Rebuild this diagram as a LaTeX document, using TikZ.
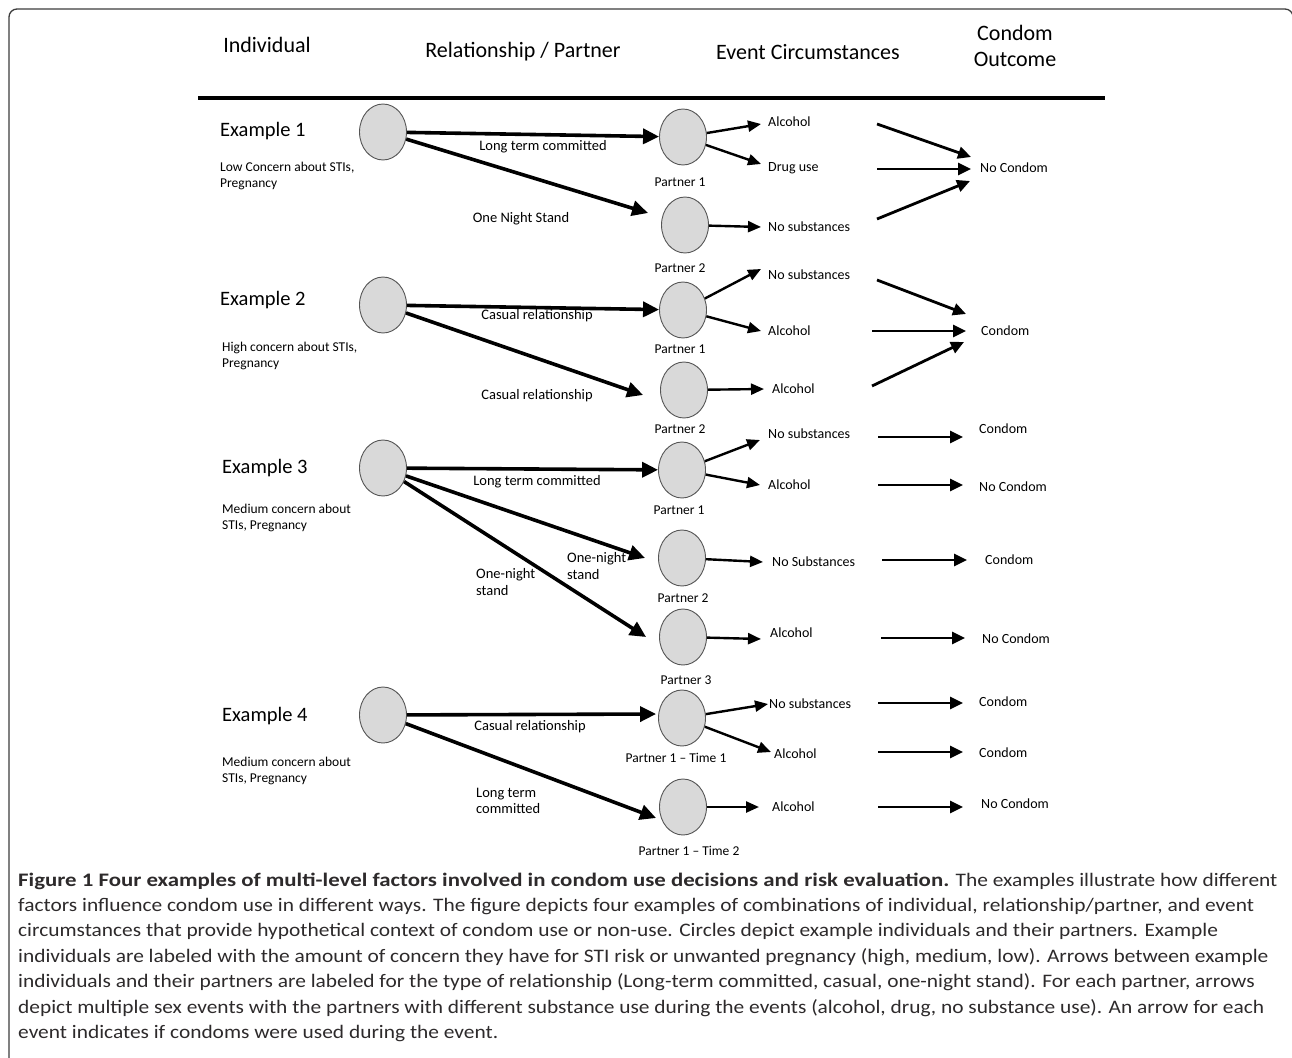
\documentclass[tikz,border=0pt]{standalone}
\usepackage{fontspec}
\setmainfont{Carlito}
\newfontfamily\capfont[FakeStretch=1.12,BoldFeatures={FakeStretch=1.195}]{Carlito}
\usetikzlibrary{shapes.geometric,arrows.meta,calc}
\definecolor{circfill}{RGB}{217,217,217}
\definecolor{circline}{RGB}{85,85,85}
\definecolor{captxt}{RGB}{45,42,43}
\definecolor{framec}{RGB}{60,60,60}
\begin{document}
\begin{tikzpicture}[x=1pt,y=-1pt,
  person/.style={ellipse, draw=circline, line width=0.9pt, fill=circfill, minimum width=47pt, minimum height=56pt, inner sep=0pt},
  big/.style={line width=3.6pt, -{Triangle[length=16pt,width=15pt]}},
  ev/.style={line width=2.4pt, -{Triangle[length=13pt,width=11pt]}},
  outc/.style={line width=2.8pt, -{Triangle[length=13pt,width=12pt]}},
  hdr/.style={font=\fontsize{22}{26}\selectfont, inner sep=0pt},
  exl/.style={font=\fontsize{20.5}{24}\selectfont, anchor=west, inner sep=0pt},
  conc/.style={font=\fontsize{13.5}{16.5}\selectfont, anchor=west, align=left, inner sep=0pt},
  rel/.style={font=\fontsize{14.5}{16.5}\selectfont, inner sep=0pt},
  relw/.style={font=\fontsize{14.5}{16.5}\selectfont, inner sep=0pt, anchor=west, align=left},
  plab/.style={font=\fontsize{13.5}{16}\selectfont, inner sep=0pt},
  evt/.style={font=\fontsize{14}{16}\selectfont, anchor=west, inner sep=0pt},
  res/.style={font=\fontsize{14}{16}\selectfont, anchor=west, inner sep=0pt},
  capline/.style={font=\capfont\fontsize{19.1}{22}\selectfont, anchor=base west, inner sep=0pt, text=captxt}
]
\useasboundingbox (0,0) rectangle (1292,1057);
% frame
\draw[line width=1.3pt, draw=framec, rounded corners=8pt] (9,1075) -- (9,9) -- (1293,9) -- (1293,1075);
% headers
\node[hdr] (hInd) at (267,45) {Individual};
\node[hdr] (hRel) at (523,52) {Relationship / Partner};
\node[hdr] (hEvt) at (808,52) {Event Circumstances};
\node[hdr, align=center] (hOut) at (1015,46) {Condom\\Outcome};
\draw[line width=3.5pt] (198,98) -- (1105,98);

% ---------- Example 1
\node[exl] (x1) at (220,131) {Example 1};
\node[conc] (c1) at (220,176) {Low Concern about STIs,\\Pregnancy};
\node[person] (i1) at (383,132) {};
\node[person] (p11) at (683,137) {};
\node[person] (p12) at (685,225) {};
\node[plab] (l11) at (680,182) {Partner 1};
\node[plab] (l12) at (680,268) {Partner 2};
\node[rel] (r11) at (543,147) {Long term committed};
\node[rel] (r12) at (521,219) {One Night Stand};
\node[evt] (e11) at (768,122) {Alcohol};
\node[evt] (e12) at (768,168) {Drug use};
\node[evt] (e13) at (768,227) {No substances};
\node[res] (o1) at (980,168) {No Condom};
\draw[big] (i1) -- (p11);
\draw[big] (i1) -- ([xshift=-13pt,yshift=12pt]p12.west);
\draw[ev] (p11) -- ([xshift=-7pt,yshift=-2pt]e11.west);
\draw[ev] (p11) -- ([xshift=-7pt,yshift=4pt]e12.west);
\draw[ev] (p12) -- ([xshift=-7pt]e13.west);
\coordinate (s11) at (877,124); \coordinate (t11) at (971,157);
\coordinate (s12) at (877,169); \coordinate (t12) at (971,169);
\coordinate (s13) at (877,219); \coordinate (t13) at (970,181);
\draw[outc] (s11) -- (t11);
\draw[outc] (s12) -- (t12);
\draw[outc] (s13) -- (t13);

% ---------- Example 2
\node[exl] (x2) at (220,300) {Example 2};
\node[conc] (c2) at (222,356) {High concern about STIs,\\Pregnancy};
\node[person] (i2) at (383,305) {};
\node[person] (p21) at (683,310) {};
\node[person] (p22) at (684,390) {};
\node[plab] (l21) at (680,349) {Partner 1};
\node[plab] (l22) at (680,429) {Partner 2};
\node[rel] (r21) at (537,316) {Casual relationship};
\node[rel] (r22) at (537,396) {Casual relationship};
\node[evt] (e21) at (768,275) {No substances};
\node[evt] (e22) at (768,331) {Alcohol};
\node[evt] (e23) at (772,389) {Alcohol};
\node[res] (o2) at (981,331) {Condom};
\draw[big] (i2) -- (p21);
\draw[big] (i2) -- ([xshift=-17pt,yshift=-5pt]p22.west);
\draw[ev] (p21) -- ([xshift=-7pt,yshift=6pt]e21.west);
\draw[ev] (p21) -- ([xshift=-7pt]e22.west);
\draw[ev] (p22) -- ([xshift=-8pt]e23.west);
\coordinate (s21) at (877,280); \coordinate (t21) at (966,314);
\coordinate (s22) at (872,331); \coordinate (t22) at (966,331);
\coordinate (s23) at (872,386); \coordinate (t23) at (964,342);
\draw[outc] (s21) -- (t21);
\draw[outc] (s22) -- (t22);
\draw[outc] (s23) -- (t23);

% ---------- Example 3
\node[exl] (x3) at (222,468) {Example 3};
\node[conc] (c3) at (222,518) {Medium concern about\\STIs, Pregnancy};
\node[person] (i3) at (383,468) {};
\node[person] (p31) at (682,470) {};
\node[person] (p32) at (682,558) {};
\node[person] (p33) at (683,637) {};
\node[plab] (l31) at (679,510) {Partner 1};
\node[plab] (l32) at (683,598) {Partner 2};
\node[plab] (l33) at (686,680) {Partner 3};
\node[rel] (r31) at (537,482) {Long term committed};
\node[relw] (r32) at (567,566) {One-night\\stand};
\node[relw] (r33) at (476,582) {One-night\\stand};
\node[evt] (e31) at (768,434) {No substances};
\node[evt] (e32) at (768,485) {Alcohol};
\node[evt] (e33) at (772,562) {No Substances};
\node[evt] (e34) at (770,633) {Alcohol};
\node[res] (o31) at (979,429) {Condom};
\node[res] (o32) at (979,487) {No Condom};
\node[res] (o33) at (985,560) {Condom};
\node[res] (o34) at (982,639) {No Condom};
\draw[big] (i3) -- (p31);
\draw[big] (i3) -- ([xshift=-13pt]p32.west);
\draw[big] (i3) -- ([xshift=-13pt]p33.west);
\draw[ev] (p31) -- ([xshift=-8pt,yshift=-6pt]e31.west);
\draw[ev] (p31) -- ([xshift=-8pt]e32.west);
\draw[ev] (p32) -- ([xshift=-9pt]e33.west);
\draw[ev] (p33) -- ([xshift=-9pt,yshift=-6pt]e34.west);
\coordinate (s31) at (878,437); \coordinate (t31) at (963,437);
\coordinate (s32) at (878,485); \coordinate (t32) at (963,485);
\coordinate (s33) at (882,560); \coordinate (t33) at (967,560);
\coordinate (s34) at (881,638); \coordinate (t34) at (965,638);
\draw[outc] (s31) -- (t31);
\draw[outc] (s32) -- (t32);
\draw[outc] (s33) -- (t33);
\draw[outc] (s34) -- (t34);

% ---------- Example 4
\node[exl] (x4) at (222,716) {Example 4};
\node[conc] (c4) at (222,771) {Medium concern about\\STIs, Pregnancy};
\node[person] (i4) at (383,715) {};
\node[person] (p41) at (682,718) {};
\node[person] (p42) at (683,807) {};
\node[plab] (l41) at (676,758) {Partner 1 -- Time 1};
\node[plab] (l42) at (689,851) {Partner 1 -- Time 2};
\node[rel] (r41) at (530,727) {Casual relationship};
\node[relw] (r42) at (476,801) {Long term\\committed};
\node[evt] (e41) at (769,704) {No substances};
\node[evt] (e42) at (774,754) {Alcohol};
\node[evt] (e43) at (772,807) {Alcohol};
\node[res] (o41) at (979,702) {Condom};
\node[res] (o42) at (979,753) {Condom};
\node[res] (o43) at (981,804) {No Condom};
\draw[big] (i4) -- ([xshift=-2pt,yshift=4pt]p41.west);
\draw[big] (i4) -- ([xshift=-3pt,yshift=-11pt]p42.west);
\draw[ev] (p41) -- ([xshift=-1pt]e41.west);
\draw[ev] (p41) -- ([xshift=-3pt,yshift=2pt]e42.west);
\draw[ev] (p42) -- ([xshift=-13pt]e43.west);
\coordinate (s41) at (878,703); \coordinate (t41) at (963,703);
\coordinate (s42) at (878,752); \coordinate (t42) at (963,752);
\coordinate (s43) at (878,807); \coordinate (t43) at (963,807);
\draw[outc] (s41) -- (t41);
\draw[outc] (s42) -- (t42);
\draw[outc] (s43) -- (t43);

% ---------- caption
\node[capline] (cap1) at (18,886) {\bfseries Figure 1 Four examples of multi-level factors involved in condom use decisions and risk evaluation.\mdseries{} The examples illustrate how different};
\node[capline] (cap2) at (18,911.4) {factors influence condom use in different ways. The figure depicts four examples of combinations of individual, relationship/partner, and event};
\node[capline] (cap3) at (18,936.8) {circumstances that provide hypothetical context of condom use or non-use. Circles depict example individuals and their partners. Example};
\node[capline] (cap4) at (18,962.2) {individuals are labeled with the amount of concern they have for STI risk or unwanted pregnancy (high, medium, low). Arrows between example};
\node[capline] (cap5) at (18,987.6) {individuals and their partners are labeled for the type of relationship (Long-term committed, casual, one-night stand). For each partner, arrows};
\node[capline] (cap6) at (18,1013) {depict multiple sex events with the partners with different substance use during the events (alcohol, drug, no substance use). An arrow for each};
\node[capline] (cap7) at (18,1038.4) {event indicates if condoms were used during the event.};
\end{tikzpicture}
\end{document}
